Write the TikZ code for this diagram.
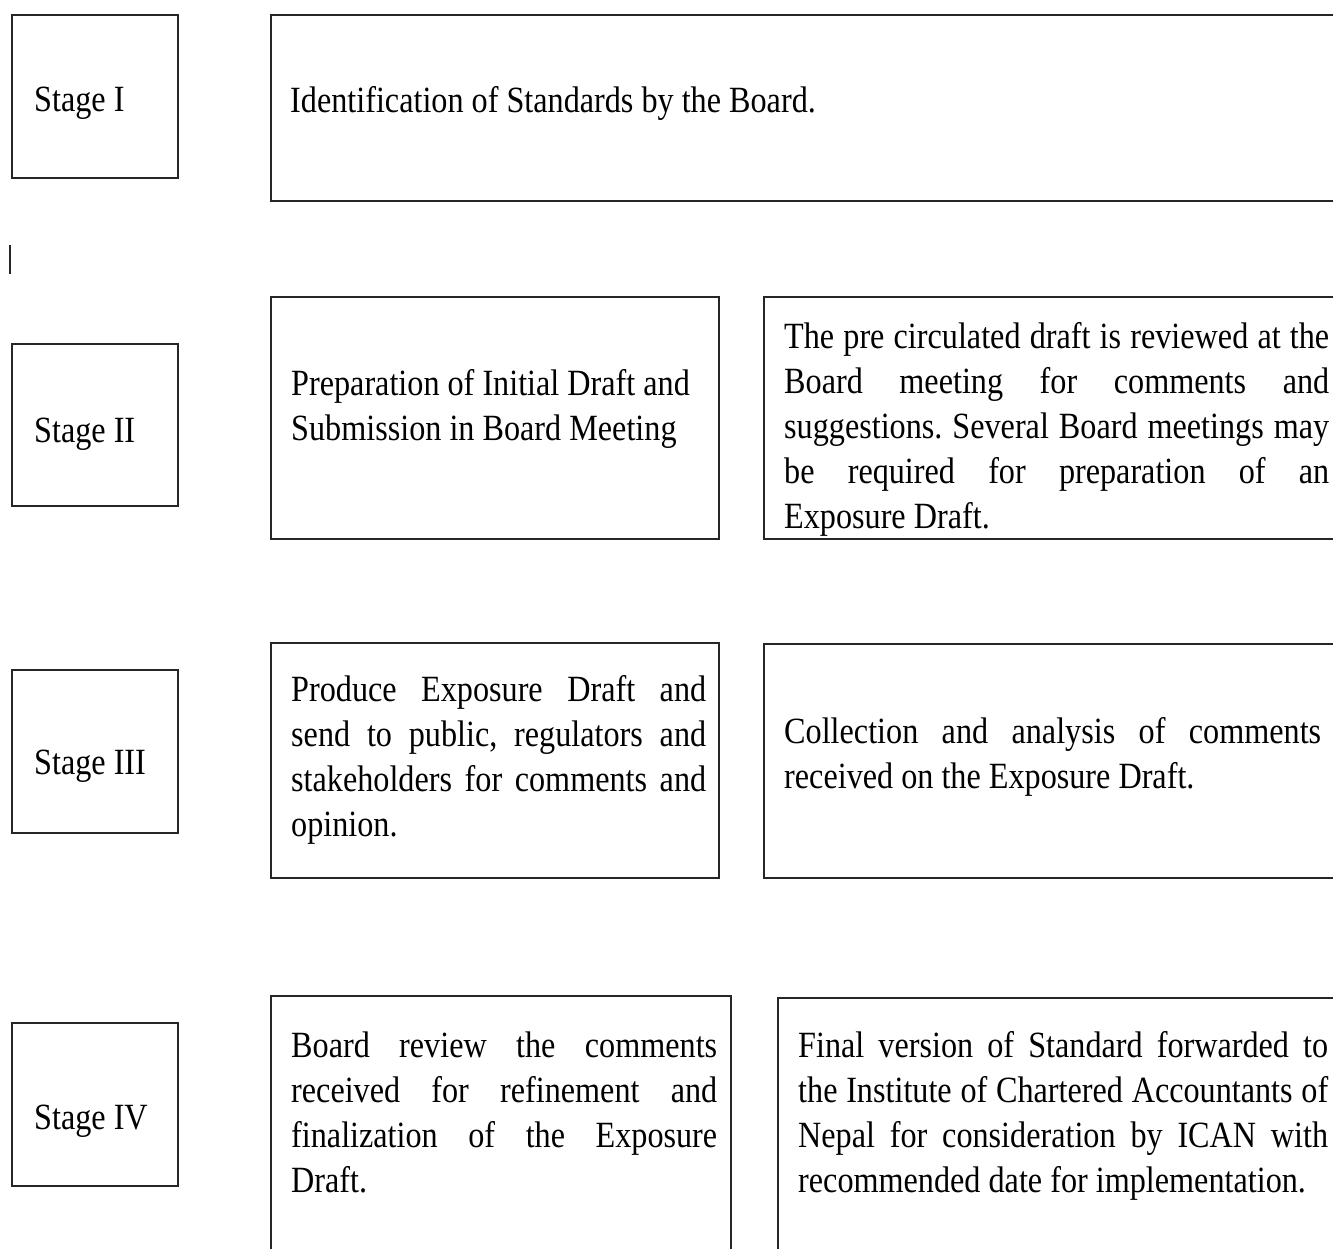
\documentclass[tikz,border=0pt]{standalone}
\usepackage{fontspec}
\setmainfont[FakeStretch=0.87]{Liberation Serif}
\frenchspacing
\newcommand{\jl}[2]{\makebox[#1][s]{#2}}
\begin{document}
\begin{tikzpicture}[x=1pt,y=-1pt,
  box/.style={draw=black!85, line width=1.8pt, inner sep=0pt, anchor=north west},
  txt/.style={inner sep=0pt, anchor=base west, font=\fontsize{37}{45.2}\selectfont\frenchspacing}]
\useasboundingbox (0,0) rectangle (1333,1249);
% stage boxes
\node[box, minimum width=166pt, minimum height=163pt] (s1) at (11,14) {};
\node[box, minimum width=166pt, minimum height=162pt] (s2) at (11,343) {};
\node[box, minimum width=166pt, minimum height=163pt] (s3) at (11,669) {};
\node[box, minimum width=166pt, minimum height=163pt] (s4) at (11,1022) {};
% content boxes
\node[box, minimum width=1090pt, minimum height=186pt] (b1) at (270,14) {};
\node[box, minimum width=448pt, minimum height=242pt] (b2a) at (270,296) {};
\node[box, minimum width=590pt, minimum height=242pt] (b2b) at (763,296) {};
\node[box, minimum width=448pt, minimum height=235pt] (b3a) at (270,642) {};
\node[box, minimum width=590pt, minimum height=234pt] (b3b) at (763,643) {};
\node[box, minimum width=460pt, minimum height=280pt] (b4a) at (270,995) {};
\node[box, minimum width=580pt, minimum height=280pt] (b4b) at (777,997) {};
% small bar
\coordinate (barA) at (10,245);
\coordinate (barB) at (10,274);
\draw[black!85, line width=1.4pt] (barA) -- (barB);
% stage labels
\node[txt] (l1) at (34,112) {Stage I};
\node[txt] (l2) at (34,442) {Stage II};
\node[txt] (l3) at (34,774) {Stage III};
\node[txt] (l4) at (34,1129) {Stage IV};
% texts
\node[txt] (t1) at (290,113) {Identification of Standards by the Board.};
\node[txt] (t2a) at (291,395) {\parbox[t]{420pt}{Preparation of Initial Draft and\\Submission in Board Meeting}};
\node[txt] (t2b) at (784,348) {\parbox[t]{545pt}{%
\jl{545pt}{The pre circulated draft is reviewed at the}\\
\jl{545pt}{Board meeting for comments and}\\
\jl{545pt}{suggestions. Several Board meetings may}\\
\jl{545pt}{be required for preparation of an}\\
Exposure Draft.}};
\node[txt] (t3a) at (291,701) {\parbox[t]{415pt}{%
\jl{415pt}{Produce Exposure Draft and}\\
\jl{415pt}{send to public, regulators and}\\
\jl{415pt}{stakeholders for comments and}\\
opinion.}};
\node[txt] (t3b) at (784,743) {\parbox[t]{537pt}{%
\jl{537pt}{Collection and analysis of comments}\\
received on the Exposure Draft.}};
\node[txt] (t4a) at (291,1057) {\parbox[t]{426pt}{%
\jl{426pt}{Board review the comments}\\
\jl{426pt}{received for refinement and}\\
\jl{426pt}{finalization of the Exposure}\\
Draft.}};
\node[txt] (t4b) at (798,1057) {\parbox[t]{530pt}{%
\jl{530pt}{Final version of Standard forwarded to}\\
\jl{530pt}{the Institute of Chartered Accountants of}\\
\jl{530pt}{Nepal for consideration by ICAN with}\\
recommended date for implementation.}};
\end{tikzpicture}
\end{document}
